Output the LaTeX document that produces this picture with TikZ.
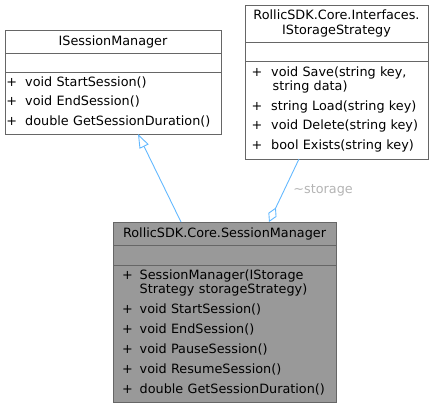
\documentclass[tikz,border=0pt]{standalone}
\usepackage{fontspec}
\usetikzlibrary{positioning,arrows.meta,calc}
\newfontfamily\umlfont{DejaVu Sans}
\newcommand\umlsize{\umlfont\fontsize{12.8}{14.5}\selectfont}
\definecolor{boxgray}{HTML}{666666}
\definecolor{boxfill}{HTML}{999999}
\definecolor{edgeblue}{HTML}{63B8FF}
\definecolor{labelgray}{HTML}{B4B4B4}
\tikzset{
    umlbox/.style={draw=boxgray,line width=0.9pt,outer sep=0pt,inner xsep=0pt,inner ysep=0pt,font=\umlsize},
    clstitle/.style={umlbox,align=center},
    clsempty/.style={umlbox},
    clsops/.style={umlbox,align=left},
    umledge/.style={draw=edgeblue,line width=0.9pt},
}
\begin{document}
\begin{tikzpicture}[x=1pt,y=-1pt]
    \useasboundingbox (0,0) rectangle (435,408);

    % interface ISessionManager
    \node[clstitle,anchor=north west,text width=216pt,minimum height=23pt] (ismt) at (5,30) {ISessionManager};
    \node[clsempty,below=0pt of ismt,minimum width=216pt,minimum height=19pt] (isma) {};
    \node[clsops,below=0pt of isma,text width=216pt,minimum height=62pt] (ismo) {%
        \begin{tabular}{@{\hspace{1.5pt}}l@{\hspace{8pt}}l@{}}
            + & void StartSession()\\[5pt]
            + & void EndSession()\\[5pt]
            + & double GetSessionDuration()
        \end{tabular}};

    % interface IStorageStrategy
    \node[clstitle,anchor=north west,text width=183pt,minimum height=37pt] (isst) at (245,5) {RollicSDK.Core.Interfaces.\\IStorageStrategy};
    \node[clsempty,below=0pt of isst,minimum width=183pt,minimum height=19pt] (issa) {};
    \node[clsops,below=0pt of issa,text width=183pt,minimum height=98pt] (isso) {%
        \begin{tabular}{@{\hspace{6.5pt}}l@{\hspace{9pt}}l@{}}
            + & void Save(string key,\\
              & \hspace{1.5pt}string data)\\[5pt]
            + & string Load(string key)\\[5pt]
            + & void Delete(string key)\\[5pt]
            + & bool Exists(string key)
        \end{tabular}};

    % class SessionManager
    \begin{scope}[every node/.append style={fill=boxfill}]
        \node[clstitle,anchor=north west,text width=223pt,minimum height=23pt] (smt) at (113,222) {RollicSDK.Core.SessionManager};
        \node[clsempty,below=0pt of smt,minimum width=223pt,minimum height=20pt] (sma) {};
        \node[clsops,below=0pt of sma,text width=223pt,minimum height=137pt] (smo) {%
            \begin{tabular}{@{\hspace{9pt}}l@{\hspace{7pt}}l@{}}
                + & SessionManager(IStorage\\
                  & Strategy storageStrategy)\\[5.5pt]
                + & void StartSession()\\[5.5pt]
                + & void EndSession()\\[5.5pt]
                + & void PauseSession()\\[5.5pt]
                + & void ResumeSession()\\[5.5pt]
                + & double GetSessionDuration()
            \end{tabular}};
    \end{scope}

    % relations
    \draw[umledge,-{Triangle[open,length=14pt,width=10pt]}] ([xshift=68pt]smt.north west) -- ([xshift=133pt]ismo.south west);
    \draw[umledge,-{Diamond[open,length=16pt,width=9pt]}] ([xshift=54pt]isso.south west) -- ([xshift=156pt]smt.north west)
        node[pos=0.5,anchor=west,xshift=8pt,font=\umlsize,text=labelgray,inner sep=1pt] (storlbl) {\textasciitilde storage};
\end{tikzpicture}
\end{document}
